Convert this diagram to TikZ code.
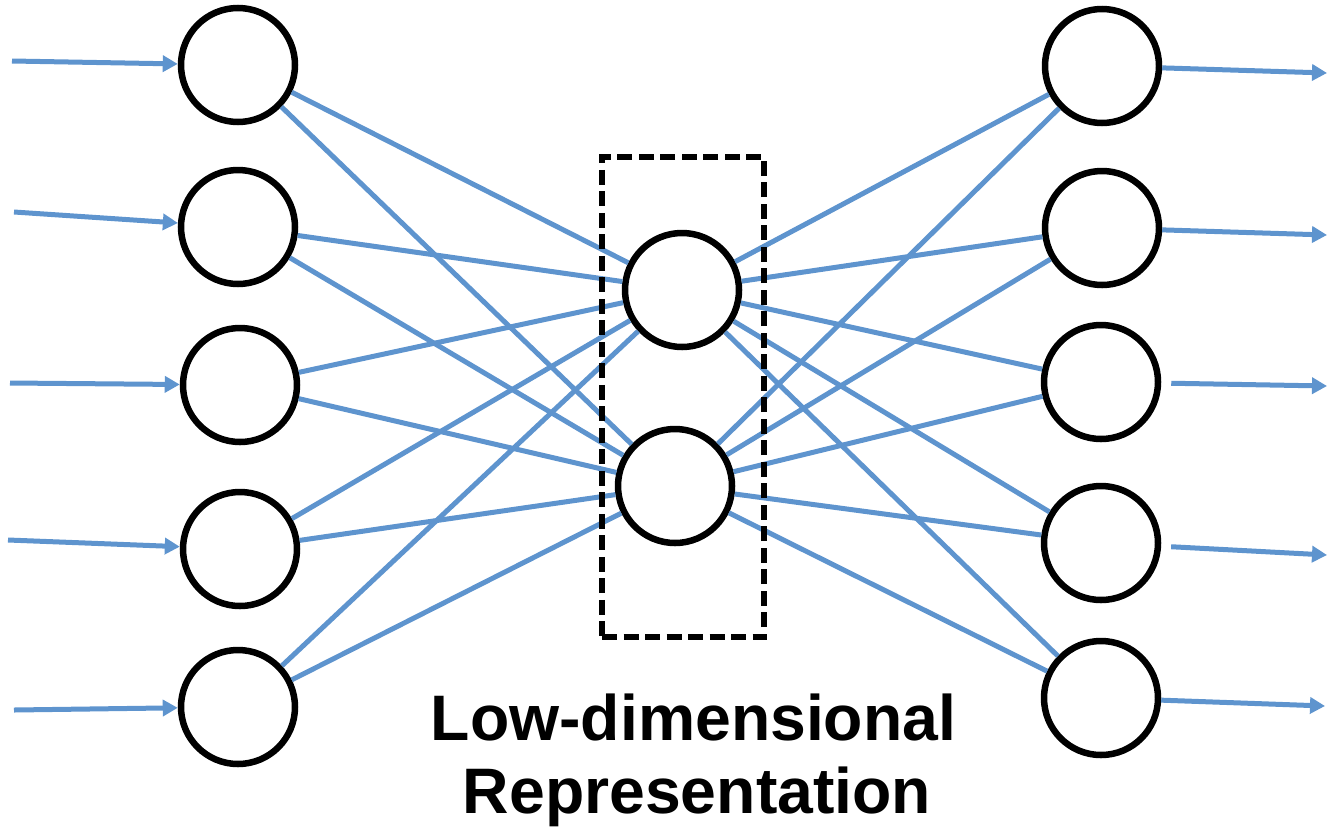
\documentclass[tikz,border=0pt]{standalone}
\usepackage{fontspec}
\setmainfont{Liberation Sans}
\usetikzlibrary{arrows.meta}
\definecolor{linkblue}{RGB}{94,148,206}

\begin{document}
\begin{tikzpicture}[
  unit/.style={circle, draw=black, line width=0.065cm, fill=white, minimum size=1.14cm, inner sep=0pt},
  link/.style={draw=linkblue, line width=0.05cm},
  feed/.style={link, -{Triangle[length=0.15cm, width=0.16cm]}},
  caption/.style={anchor=base, inner sep=0pt, font=\fontsize{18.3}{22}\selectfont\bfseries}
]
\useasboundingbox (0,0) rectangle (13.28,-8.28);

% input layer
\node[unit] (in1) at (2.38,-0.65) {};
\node[unit] (in2) at (2.38,-2.27) {};
\node[unit] (in3) at (2.40,-3.85) {};
\node[unit] (in4) at (2.40,-5.49) {};
\node[unit] (in5) at (2.38,-7.07) {};

% code layer
\node[unit] (mid1) at (6.82,-2.90) {};
\node[unit] (mid2) at (6.75,-4.86) {};

% output layer
\node[unit] (out1) at (11.02,-0.66) {};
\node[unit] (out2) at (11.02,-2.28) {};
\node[unit] (out3) at (11.01,-3.82) {};
\node[unit] (out4) at (11.01,-5.43) {};
\node[unit] (out5) at (11.01,-6.98) {};

% free ends of the feed arrows
\coordinate (src1) at (0.12,-0.61);
\coordinate (src2) at (0.14,-2.12);
\coordinate (src3) at (0.10,-3.83);
\coordinate (src4) at (0.08,-5.40);
\coordinate (src5) at (0.14,-7.10);
\coordinate (dst1) at (13.27,-0.73);
\coordinate (dst2) at (13.27,-2.35);
\coordinate (dst3) at (13.27,-3.86);
\coordinate (dst4) at (13.27,-5.55);
\coordinate (dst5) at (13.25,-7.06);

\draw[feed] (src1) -- (in1);
\draw[feed] (src2) -- (in2);
\draw[feed] (src3) -- (in3);
\draw[feed] (src4) -- (in4);
\draw[feed] (src5) -- (in5);

\draw[feed] (out1) -- (dst1);
\draw[feed] (out2) -- (dst2);
\draw[feed, shorten <=0.1cm] (out3) -- (dst3);
\draw[feed, shorten <=0.1cm] (out4) -- (dst4);
\draw[feed] (out5) -- (dst5);

% encoder links
\draw[link] (in1) -- (mid1); \draw[link] (in1) -- (mid2);
\draw[link] (in2) -- (mid1); \draw[link] (in2) -- (mid2);
\draw[link] (in3) -- (mid1); \draw[link] (in3) -- (mid2);
\draw[link] (in4) -- (mid1); \draw[link] (in4) -- (mid2);
\draw[link] (in5) -- (mid1); \draw[link] (in5) -- (mid2);

% decoder links
\draw[link] (mid1) -- (out1); \draw[link] (mid2) -- (out1);
\draw[link] (mid1) -- (out2); \draw[link] (mid2) -- (out2);
\draw[link] (mid1) -- (out3); \draw[link] (mid2) -- (out3);
\draw[link] (mid1) -- (out4); \draw[link] (mid2) -- (out4);
\draw[link] (mid1) -- (out5); \draw[link] (mid2) -- (out5);

% bottleneck box
\node[draw=black, line width=0.06cm, dash pattern=on 0.15cm off 0.065cm,
      minimum width=1.62cm, minimum height=4.80cm, inner sep=0pt] (bottleneck) at (6.83,-3.97) {};

\node[caption] (lowdim) at (6.935,-7.40) {Low-dimensional};
\node[caption] (repr) at (6.97,-8.13) {Representation};
\end{tikzpicture}
\end{document}
